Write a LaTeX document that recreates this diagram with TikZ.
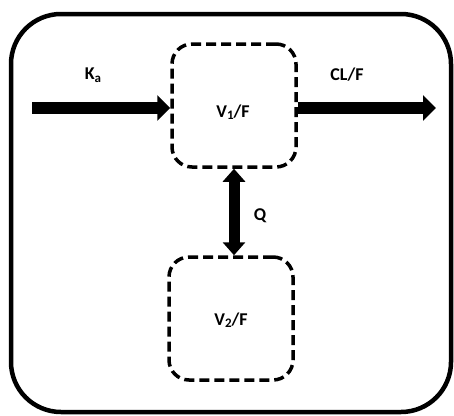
\documentclass[tikz,border=0pt]{standalone}
\usepackage{fontspec}
\setmainfont{Carlito}
\usetikzlibrary{arrows.meta}
\newcommand{\mysub}[1]{\raisebox{-2.5pt}{\fontsize{13}{14}\selectfont #1}}
\tikzset{
  comp/.style={draw, dashed, dash pattern=on 10pt off 5pt, line width=3.5pt, rounded corners=20pt,
    minimum width=124pt, minimum height=123pt, inner sep=0pt},
  lbl/.style={font=\bfseries\fontsize{18}{20}\selectfont, inner sep=0pt},
  flow/.style={line width=12pt, -{Triangle[length=13pt 0 0, width=25pt 0 0]}},
  flow2/.style={line width=11pt, {Triangle[length=13pt 0 0, width=22pt 0 0]}-{Triangle[length=13pt 0 0, width=22pt 0 0]}},
}
\begin{document}
\begin{tikzpicture}[x=1pt,y=-1pt]
\useasboundingbox (0,0) rectangle (454,415);
\draw[line width=4.5pt, rounded corners=50pt] (11,14) rectangle (451,412);
\node[comp] (v1) at (234,105.5) {};
\node[comp] (v2) at (231,318.5) {};
\node[lbl] (v1l) at (233,112) {V\mysub{1}/F};
\node[lbl] (v2l) at (231,320) {V\mysub{2}/F};
\coordinate (in) at (32,108);
\coordinate (out) at (436,108);
\draw[flow] (in) -- (in -| v1.west);
\draw[flow] (out -| v1.east) -- (out);
\draw[flow2] (v1.south) -- (v1.south |- v2.north);
\node[lbl] (ka) at (93,75) {K\mysub{a}};
\node[lbl] (cl) at (347,75) {CL/F};
\node[lbl] (q) at (260,216) {Q};
\end{tikzpicture}
\end{document}
